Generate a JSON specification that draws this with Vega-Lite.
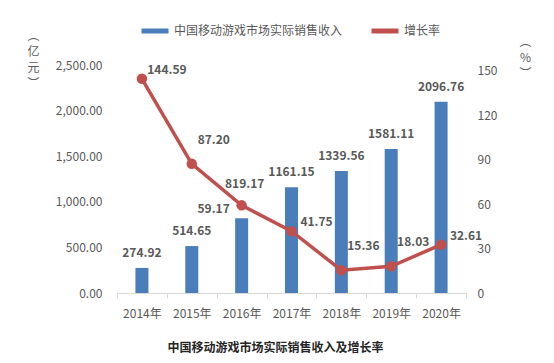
{
  "$schema": "https://vega.github.io/schema/vega-lite/v6.json",
  "autosize": {"type": "none"},
  "padding": {"left": 117, "top": 56, "right": 88, "bottom": 70},
  "width": 349,
  "height": 237,
  "background": "white",
  "config": {
    "font": "Noto Sans CJK SC",
    "view": {"stroke": null},
    "axis": {"labelFont": "Noto Sans CJK SC", "labelFontSize": 12, "labelColor": "#595959", "titleFont": "Noto Sans CJK SC", "titleColor": "#595959", "titleFontSize": 12, "titleFontWeight": "normal"}
  },
  "title": {
    "text": "中国移动游戏市场实际销售收入及增长率",
    "orient": "bottom",
    "fontSize": 12,
    "fontWeight": "bold",
    "color": "#262626",
    "dx": -16,
    "offset": 24
  },
  "data": {
    "values": [
      {"year": "2014年", "revenue": 274.92, "growth": 144.59},
      {"year": "2015年", "revenue": 514.65, "growth": 87.20},
      {"year": "2016年", "revenue": 819.17, "growth": 59.17},
      {"year": "2017年", "revenue": 1161.15, "growth": 41.75},
      {"year": "2018年", "revenue": 1339.56, "growth": 15.36},
      {"year": "2019年", "revenue": 1581.11, "growth": 18.03},
      {"year": "2020年", "revenue": 2096.76, "growth": 32.61}
    ]
  },
  "encoding": {
    "x": {
      "field": "year", "type": "nominal", "sort": null,
      "scale": {"paddingInner": 0, "paddingOuter": 0},
      "axis": {"title": null, "labelAngle": 0, "domainColor": "#d9d9d9", "tickColor": "#d9d9d9", "tickSize": 5, "tickBand": "extent", "labelPadding": 10}
    }
  },
  "layer": [
    {
      "layer": [
        {
          "mark": {"type": "bar", "size": 13},
          "encoding": {
            "y": {"field": "revenue", "type": "quantitative", "scale": {"domain": [0, 2500]},
              "axis": {"values": [0, 500, 1000, 1500, 2000, 2500], "format": ",.2f", "grid": false, "domain": false, "ticks": false, "labelPadding": 15,
                "title": ["︵", "亿", "元", "︶"], "titleAngle": 0, "titleX": -84, "titleY": -26, "titleAlign": "center", "titleBaseline": "top", "titleLineHeight": 16}},
            "color": {"datum": "中国移动游戏市场实际销售收入", "type": "nominal",
              "scale": {"domain": ["中国移动游戏市场实际销售收入", "增长率"], "range": ["#4a7ebb", "#c0504d"]},
              "legend": {"title": null, "orient": "none", "legendX": 22, "legendY": -41, "direction": "horizontal", "columnPadding": 18, "labelFontSize": 12, "labelColor": "#595959", "labelOffset": 3, "labelLimit": 0,
                "encode": {"symbols": {"update": {"shape": {"value": "stroke"}, "size": {"value": 729}, "stroke": {"scale": "color", "field": "value"}, "strokeWidth": {"value": 5}}}}}}
          }
        },
        {
          "transform": [{"filter": "datum.year != '2016年'"}],
          "mark": {"type": "text", "dy": -15, "fontSize": 12, "fontWeight": "bold", "fill": "#595959", "font": "Noto Sans CJK SC"},
          "encoding": {
            "y": {"field": "revenue", "type": "quantitative"},
            "text": {"field": "revenue", "type": "quantitative", "format": ".2f"}
          }
        },
        {
          "transform": [{"filter": "datum.year == '2016年'"}],
          "mark": {"type": "text", "dy": -34, "dx": 3, "fontSize": 12, "fontWeight": "bold", "fill": "#595959", "font": "Noto Sans CJK SC"},
          "encoding": {
            "y": {"field": "revenue", "type": "quantitative"},
            "text": {"field": "revenue", "type": "quantitative", "format": ".2f"}
          }
        }
      ]
    },
    {
      "layer": [
        {
          "mark": {"type": "line", "strokeWidth": 3.5, "point": {"filled": true, "size": 110, "fill": "#c0504d"}},
          "encoding": {
            "y": {"field": "growth", "type": "quantitative", "scale": {"domain": [0, 150]},
              "axis": {"orient": "right", "values": [0, 30, 60, 90, 120, 150], "grid": false, "domain": false, "ticks": false, "labelPadding": 11,
                "title": ["︵", "%", "︶"], "titleAngle": 0, "titleX": 59, "titleY": -20, "titleAlign": "center", "titleBaseline": "top", "titleLineHeight": 16}},
            "color": {"datum": "增长率", "type": "nominal"}
          }
        },
        {
          "transform": [{"filter": "datum.year == '2014年' || datum.year == '2017年' || datum.year == '2020年'"}],
          "mark": {"type": "text", "dx": 25, "dy": -9, "fontSize": 12, "fontWeight": "bold", "fill": "#595959", "font": "Noto Sans CJK SC"},
          "encoding": {
            "y": {"field": "growth", "type": "quantitative"},
            "text": {"field": "growth", "type": "quantitative", "format": ".2f"}
          }
        },
        {
          "transform": [{"filter": "datum.year == '2015年' || datum.year == '2018年' || datum.year == '2019年'"}],
          "mark": {"type": "text", "dx": 22, "dy": -24, "fontSize": 12, "fontWeight": "bold", "fill": "#595959", "font": "Noto Sans CJK SC"},
          "encoding": {
            "y": {"field": "growth", "type": "quantitative"},
            "text": {"field": "growth", "type": "quantitative", "format": ".2f"}
          }
        },
        {
          "transform": [{"filter": "datum.year == '2016年'"}],
          "mark": {"type": "text", "dx": -28, "dy": 4, "fontSize": 12, "fontWeight": "bold", "fill": "#595959", "font": "Noto Sans CJK SC"},
          "encoding": {
            "y": {"field": "growth", "type": "quantitative"},
            "text": {"field": "growth", "type": "quantitative", "format": ".2f"}
          }
        }
      ]
    }
  ],
  "resolve": {"scale": {"y": "independent"}}
}
